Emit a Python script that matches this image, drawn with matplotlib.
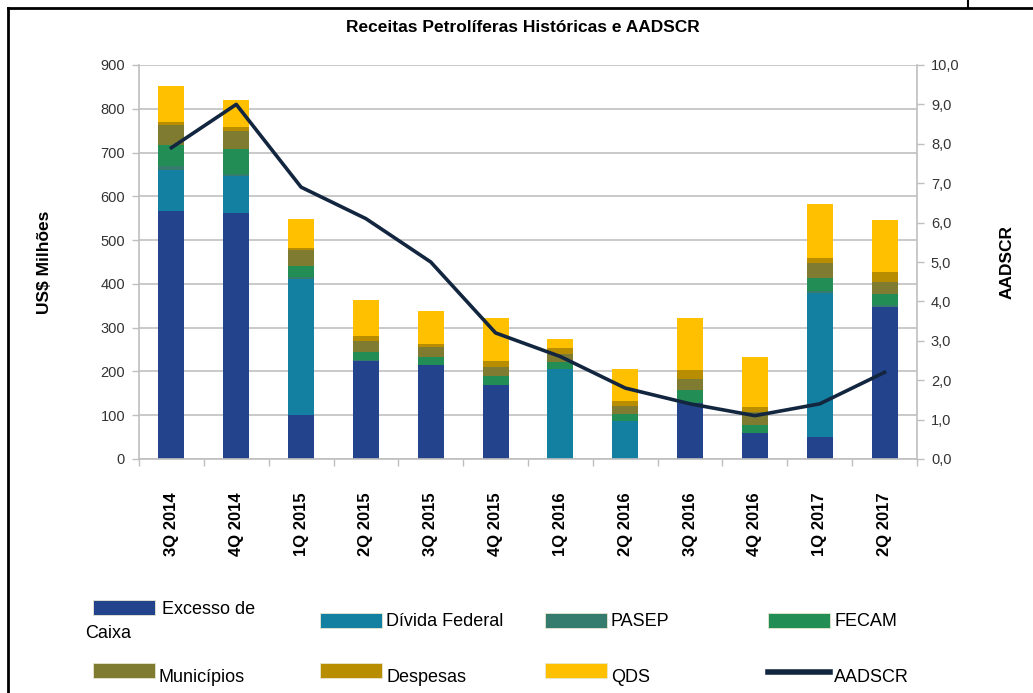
import numpy as np
import matplotlib
matplotlib.use("Agg")
import matplotlib.pyplot as plt
from matplotlib.patches import Rectangle
from matplotlib.lines import Line2D

# data (US$ milhoes, stacked)
quarters = ["3Q 2014", "4Q 2014", "1Q 2015", "2Q 2015", "3Q 2015", "4Q 2015",
            "1Q 2016", "2Q 2016", "3Q 2016", "4Q 2016", "1Q 2017", "2Q 2017"]
excesso = [567, 561, 100, 225, 215, 168, 0, 0, 129, 59, 51, 348]
divida = [93, 85, 312, 0, 0, 0, 206, 87, 0, 0, 329, 0]
pasep = [9, 6, 4, 1, 0, 0, 0, 0, 0, 0, 4, 4]
fecam = [48, 55, 25, 19, 19, 22, 16, 16, 29, 19, 30, 26]
municipios = [46, 43, 37, 25, 21, 21, 18, 17, 24, 30, 33, 26]
despesas = [7, 9, 3, 10, 8, 14, 13, 12, 21, 10, 11, 24]
qds = [82, 61, 68, 84, 75, 96, 21, 74, 119, 116, 124, 118]
aadscr = [7.9, 9.0, 6.9, 6.1, 5.0, 3.2, 2.6, 1.8, 1.4, 1.1, 1.4, 2.2]

series_names = ["Excesso de\nCaixa", "Dívida Federal", "PASEP", "FECAM",
                "Municípios", "Despesas", "QDS"]
series_vals = [excesso, divida, pasep, fecam, municipios, despesas, qds]
colors = ["#23448C", "#1380A1", "#357B6E", "#228E55", "#7F7B30", "#B88D00", "#FFC000"]
line_color = "#13263F"

plt.rcParams["font.family"] = ["Liberation Sans", "DejaVu Sans"]

fig = plt.figure(figsize=(10.33, 6.93), dpi=100)
ax = fig.add_axes([139/1033, 1-459/693, 778/1033, 394/693])

x = np.arange(len(quarters))
bottom = np.zeros(len(quarters))
for vals, c in zip(series_vals, colors):
    ax.bar(x, vals, width=0.4, bottom=bottom, color=c, edgecolor="none", zorder=2)
    bottom += np.array(vals)

ax.set_xlim(-0.5, len(quarters) - 0.5)
ax.set_ylim(0, 900)
ax.set_yticks(range(0, 901, 100))
ax.yaxis.grid(True, color="#C0C0C0", lw=1.2, zorder=0)
ax.set_axisbelow(True)
ax.tick_params(axis="y", length=5, color="#BFBFBF", width=1, labelsize=10.5,
               labelcolor="#333333", pad=5)
ax.set_xticks(x)
ax.set_xticklabels(quarters, rotation=90, fontweight="bold", fontsize=12)
ax.tick_params(axis="x", which="major", length=0, pad=24)
ax.set_xticks(np.arange(-0.5, len(quarters)), minor=True)
ax.tick_params(axis="x", which="minor", length=5, color="#BFBFBF", width=1)
for s in ["top", "right"]:
    ax.spines[s].set_visible(False)
for s in ["left", "bottom"]:
    ax.spines[s].set_color("#BFBFBF")
    ax.spines[s].set_linewidth(1.2)
ax.set_ylabel("US$ Milhões", fontweight="bold", fontsize=12.5, labelpad=35)

ax2 = ax.twinx()
ax2.plot(x, aadscr, color=line_color, lw=2.6, zorder=5)
ax2.set_ylim(0, 10)
ax2.set_yticks(range(0, 11))
ax2.set_yticklabels([f"{v},0" for v in range(0, 11)])
ax2.tick_params(axis="y", length=5, color="#BFBFBF", width=1, labelsize=10.5,
                labelcolor="#333333", pad=5)
for s in ["top", "left", "bottom"]:
    ax2.spines[s].set_visible(False)
ax2.spines["right"].set_color("#BFBFBF")
ax2.spines["right"].set_linewidth(1.2)
ax2.set_ylabel("AADSCR", fontweight="bold", fontsize=12.5, labelpad=29)

fig.text(0.506, 1-28/693, "Receitas Petrolíferas Históricas e AADSCR",
         ha="center", va="center", fontweight="bold", fontsize=12.5)

# page frame
fig.add_artist(Line2D([8/1033, 8/1033], [0, 1-8/693], transform=fig.transFigure,
                      color="black", lw=2))
fig.add_artist(Line2D([8/1033, 1], [1-8/693, 1-8/693], transform=fig.transFigure,
                      color="black", lw=2))
fig.add_artist(Line2D([968/1033, 968/1033], [1-8/693, 1], transform=fig.transFigure,
                      color="black", lw=1.5))

# legend drawn by hand
def fx(px):
    return px / 1033

def fy(py):
    return 1 - py / 693

legend_slots = [(93, 600), (320, 613), (545, 613), (768, 613),
                (93, 663), (320, 663), (545, 663), (768, 663)]
labels = series_names + ["AADSCR"]
for i, (lab, (px, py)) in enumerate(zip(labels, legend_slots)):
    if i < 7:
        fig.add_artist(Rectangle((fx(px), fy(py + 15)), fx(62), 15/693,
                                 transform=fig.transFigure, facecolor=colors[i],
                                 edgecolor="#E8E8D0", lw=0.6))
    else:
        fig.add_artist(Line2D([fx(px), fx(px + 62)], [fy(py + 9), fy(py + 9)],
                              transform=fig.transFigure, color=line_color, lw=4))
    if i == 0:
        fig.text(fx(162), fy(609), "Excesso de", ha="left", va="center", fontsize=13)
        fig.text(fx(85), fy(633), "Caixa", ha="left", va="center", fontsize=13)
    else:
        ty = py + 8 if i < 4 else py + 14
        fig.text(fx(px + 66), fy(ty), lab, ha="left", va="center", fontsize=13)

fig.savefig("out.png", dpi=100)
